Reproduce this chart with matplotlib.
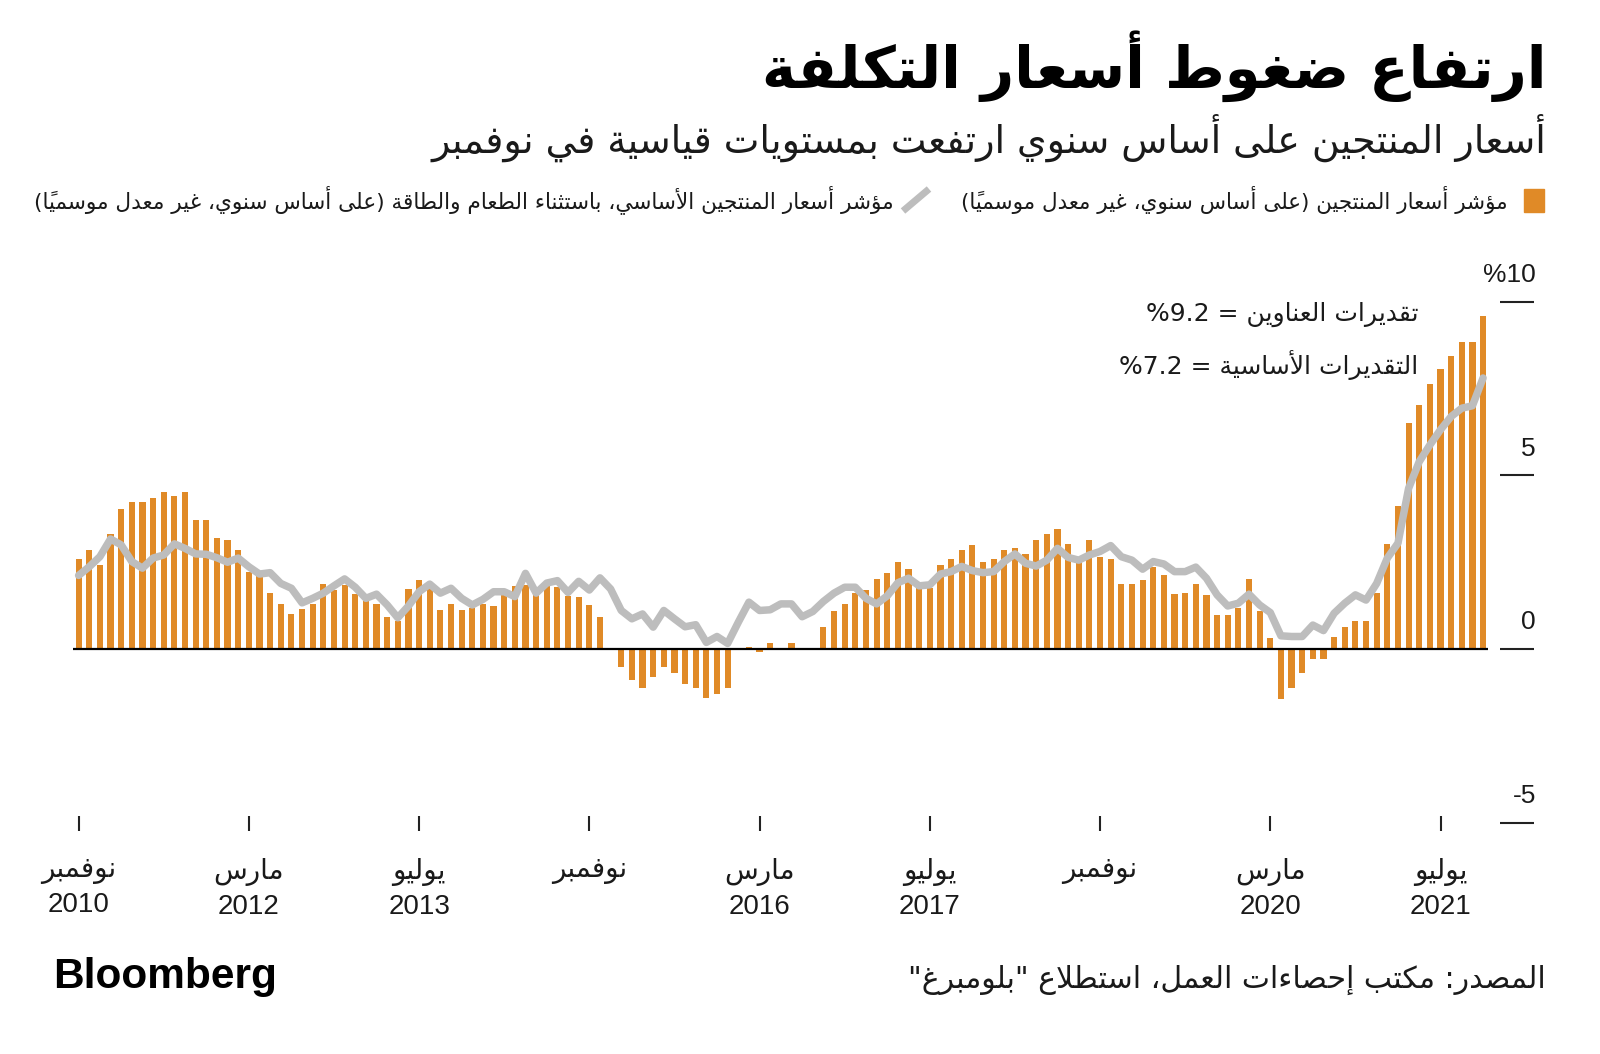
import matplotlib
matplotlib.use("Agg")
import matplotlib.pyplot as plt
from matplotlib.transforms import blended_transform_factory
from matplotlib.patches import Rectangle
from matplotlib.lines import Line2D

# ---------------- data ----------------
# Monthly, Nov 2010 .. Nov 2021, year-over-year %
ppi_yoy = [2.60, 2.86, 2.42, 3.31, 4.04, 4.23, 4.23, 4.35, 4.53, 4.40, 4.53, 3.73,
           3.73, 3.19, 3.13, 2.84, 2.23, 2.09, 1.61, 1.29, 1.00, 1.15, 1.30, 1.87,
           1.70, 1.85, 1.59, 1.37, 1.29, 0.93, 0.80, 1.72, 1.99, 1.75, 1.12, 1.30,
           1.12, 1.17, 1.30, 1.24, 1.56, 1.82, 1.85, 1.56, 1.82, 1.78, 1.54, 1.49,
           1.28, 0.91, 0.00, -0.53, -0.89, -1.13, -0.82, -0.53, -0.70, -1.02, -1.13, -1.42,
           -1.31, -1.13, 0.03, 0.07, -0.10, 0.17, 0.02, 0.18, 0.02, 0.00, 0.64, 1.10,
           1.30, 1.61, 1.70, 2.01, 2.18, 2.50, 2.30, 1.80, 1.75, 2.42, 2.60, 2.84,
           3.00, 2.50, 2.60, 2.84, 2.90, 2.74, 3.14, 3.31, 3.45, 3.03, 2.52, 3.14,
           2.66, 2.60, 1.88, 1.88, 2.00, 2.36, 2.12, 1.58, 1.61, 1.88, 1.55, 0.99,
           0.99, 1.19, 2.01, 1.10, 0.31, -1.45, -1.11, -0.68, -0.29, -0.29, 0.34, 0.63,
           0.81, 0.81, 1.61, 3.03, 4.11, 6.51, 7.04, 7.64, 8.07, 8.43, 8.84, 8.84,
           9.61]
core_yoy = [2.12, 2.37, 2.66, 3.17, 3.00, 2.52, 2.33, 2.62, 2.71, 3.03, 2.90, 2.74,
            2.73, 2.63, 2.50, 2.62, 2.37, 2.16, 2.20, 1.89, 1.75, 1.33, 1.46, 1.61,
            1.82, 2.02, 1.78, 1.46, 1.58, 1.27, 0.90, 1.24, 1.65, 1.87, 1.61, 1.75,
            1.46, 1.27, 1.43, 1.65, 1.65, 1.51, 2.18, 1.61, 1.90, 1.97, 1.63, 1.95,
            1.70, 2.05, 1.73, 1.11, 0.87, 1.01, 0.63, 1.11, 0.87, 0.64, 0.70, 0.19,
            0.36, 0.16, 0.77, 1.35, 1.11, 1.13, 1.30, 1.30, 0.93, 1.08, 1.37, 1.61,
            1.78, 1.78, 1.46, 1.30, 1.53, 1.91, 2.04, 1.82, 1.85, 2.16, 2.23, 2.38,
            2.26, 2.20, 2.23, 2.52, 2.74, 2.47, 2.39, 2.56, 2.90, 2.64, 2.56, 2.71,
            2.81, 2.98, 2.66, 2.56, 2.30, 2.52, 2.45, 2.23, 2.23, 2.36, 2.04, 1.56,
            1.24, 1.32, 1.58, 1.27, 1.05, 0.38, 0.36, 0.36, 0.69, 0.53, 1.03, 1.32,
            1.56, 1.41, 1.89, 2.62, 3.05, 4.63, 5.40, 5.88, 6.32, 6.70, 6.94, 7.01,
            7.81]
tick_index = [0, 16, 32, 48, 64, 80, 96, 112, 128]
tick_months = ["نوفمبر", "مارس", "يوليو", "نوفمبر", "مارس", "يوليو", "نوفمبر", "مارس", "يوليو"]
tick_years = ["2010", "2012", "2013", "", "2016", "2017", "", "2020", "2021"]
y_ticks = [10, 5, 0, -5]
y_tick_labels = ["%10", "5", "0", "-5"]

title = "ارتفاع ضغوط أسعار التكلفة"
subtitle = "أسعار المنتجين على أساس سنوي ارتفعت بمستويات قياسية في نوفمبر"
legend_bar = "مؤشر أسعار المنتجين (على أساس سنوي، غير معدل موسمياً)"
legend_line = "مؤشر أسعار المنتجين الأساسي، باستثناء الطعام والطاقة (على أساس سنوي، غير معدل موسمياً)"
note_headline = "تقديرات العناوين = %9.2"
note_core = "التقديرات الأساسية = %7.2"
source = 'المصدر: مكتب إحصاءات العمل، استطلاع "بلومبرغ"'

ORANGE = "#E08A27"
GREY = "#BDBDBD"

# ---------------- minimal Arabic shaping + RTL ordering ----------------
_TABLE = [("ء", 0xFE80, "U"), ("آ", 0xFE81, "R"), ("أ", 0xFE83, "R"), ("ؤ", 0xFE85, "R"),
          ("إ", 0xFE87, "R"), ("ئ", 0xFE89, "D"), ("ا", 0xFE8D, "R"), ("ب", 0xFE8F, "D"),
          ("ة", 0xFE93, "R"), ("ت", 0xFE95, "D"), ("ث", 0xFE99, "D"), ("ج", 0xFE9D, "D"),
          ("ح", 0xFEA1, "D"), ("خ", 0xFEA5, "D"), ("د", 0xFEA9, "R"), ("ذ", 0xFEAB, "R"),
          ("ر", 0xFEAD, "R"), ("ز", 0xFEAF, "R"), ("س", 0xFEB1, "D"), ("ش", 0xFEB5, "D"),
          ("ص", 0xFEB9, "D"), ("ض", 0xFEBD, "D"), ("ط", 0xFEC1, "D"), ("ظ", 0xFEC5, "D"),
          ("ع", 0xFEC9, "D"), ("غ", 0xFECD, "D"), ("ف", 0xFED1, "D"), ("ق", 0xFED5, "D"),
          ("ك", 0xFED9, "D"), ("ل", 0xFEDD, "D"), ("م", 0xFEE1, "D"), ("ن", 0xFEE5, "D"),
          ("ه", 0xFEE9, "D"), ("و", 0xFEED, "R"), ("ى", 0xFEEF, "R"), ("ي", 0xFEF1, "D")]
_AR = {c: (b, t) for c, b, t in _TABLE}
_LAM_ALEF = {"آ": 0xFEF5, "أ": 0xFEF7, "إ": 0xFEF9, "ا": 0xFEFB}
_MIRROR = {"(": ")", ")": "("}


def ar(text):
    clusters = []
    for ch in text:
        if "\u064B" <= ch <= "\u0652" and clusters:
            clusters[-1][1] += ch
        else:
            clusters.append([ch, ""])
    merged = []
    i = 0
    while i < len(clusters):
        c, m = clusters[i]
        if c == "ل" and i + 1 < len(clusters) and clusters[i + 1][0] in _LAM_ALEF:
            merged.append(["LA" + clusters[i + 1][0], m + clusters[i + 1][1]])
            i += 2
        else:
            merged.append([c, m])
            i += 1

    def jt(c):
        if len(c) == 3 and c.startswith("LA"):
            return "R"
        return _AR.get(c, (None, None))[1]

    glyphs = []
    for k, (c, m) in enumerate(merged):
        t = jt(c)
        if t is None:
            glyphs.append((c, m, False))
            continue
        if t == "U":
            glyphs.append((chr(_AR[c][0]), m, True))
            continue
        prev = merged[k - 1][0] if k > 0 else None
        nxt = merged[k + 1][0] if k + 1 < len(merged) else None
        jp = prev is not None and jt(prev) == "D"
        jn = t == "D" and nxt is not None and jt(nxt) in ("D", "R")
        if len(c) == 3 and c.startswith("LA"):
            g = chr(_LAM_ALEF[c[2]] + (1 if jp else 0))
        else:
            base = _AR[c][0]
            if t == "R":
                g = chr(base + (1 if jp else 0))
            else:
                g = chr(base + (3 if (jp and jn) else 1 if jp else 2 if jn else 0))
        glyphs.append((g, m, True))

    tokens = []
    for g, m, arabic in glyphs:
        ltr = (not arabic) and g.isascii() and (g.isalnum() or g in ".%")
        if ltr and tokens and tokens[-1][1]:
            tokens[-1][0] += g + m
        else:
            tokens.append([g + m, ltr])
    return "".join(s if l else _MIRROR.get(s, s) for s, l in reversed(tokens))


# ---------------- figure ----------------
plt.rcParams["font.family"] = ["DejaVu Sans"]
W, H = 1600, 1054
fig = plt.figure(figsize=(W / 100, H / 100), dpi=100)

# axes geometry in pixels
x0_px, dx_px = 78.6, 10.64          # centre of first bar, month spacing
zero_px, unit_px = 649.0, 34.7      # y of 0 (from top), px per 1%
xlo, xhi = -0.5, (1500 - x0_px) / dx_px
ylo, yhi = -5.5, 10.8
left = x0_px + xlo * dx_px
bottom = (H - zero_px) + ylo * unit_px
ax = fig.add_axes([left / W, bottom / H, (xhi - xlo) * dx_px / W, (yhi - ylo) * unit_px / H])
ax.set_xlim(xlo, xhi)
ax.set_ylim(ylo, yhi)

x = list(range(len(ppi_yoy)))
ax.bar(x, ppi_yoy, width=0.58, color=ORANGE, zorder=2)
ax.plot(x, core_yoy, color=GREY, lw=5.4, solid_joinstyle="round", solid_capstyle="round", zorder=3)
ax.hlines(0, x[0] - 0.5, x[-1] + 0.5, color="black", lw=1.6, zorder=4)

for s in ax.spines.values():
    s.set_visible(False)
ax.spines["bottom"].set_position(("data", (237.7 - (H - zero_px)) / unit_px))

# x ticks
ax.set_xticks(tick_index)
ax.set_xticklabels([ar(m) + ("\n" + yv if yv else "") for m, yv in zip(tick_months, tick_years)],
                   linespacing=1.42, va="top")
ax.tick_params(axis="x", direction="out", length=11, width=1.5, color="#222222", pad=19,
               labelsize=20, labelcolor="#1a1a1a")
for lab in ax.get_xticklabels():
    lab.set_family(["Liberation Sans", "DejaVu Sans"])

# y ticks on the right, labels above tick marks
ax.yaxis.tick_right()
ax.set_yticks(y_ticks)
ax.tick_params(axis="y", direction="out", length=24.5, width=1.5, color="#222222", labelright=False)
tr = blended_transform_factory(ax.transAxes, ax.transData)
xr = (1536 - left) / ((xhi - xlo) * dx_px)
for v, lab in zip(y_ticks, y_tick_labels):
    ax.text(xr, v + 0.77, lab, transform=tr, ha="right", va="center", fontsize=19,
            family=["Liberation Sans", "DejaVu Sans"], color="#1a1a1a")


def ftext(xp, yp, s, **kw):
    return fig.text(xp / W, 1 - yp / H, s, **kw)


# title, subtitle
ftext(1546, 66, ar(title), ha="right", va="center", fontsize=41.5, fontweight="bold", color="black")
ftext(1546, 138, ar(subtitle), ha="right", va="center", fontsize=27.3, color="#1a1a1a")

# legend
fig.patches.append(Rectangle((1524 / W, 1 - 212 / H), 20 / W, 23 / H, transform=fig.transFigure,
                             color=ORANGE, figure=fig))
ftext(1508, 200, ar(legend_bar), ha="right", va="center", fontsize=15.5, color="#1a1a1a")
fig.lines.append(Line2D([903 / W, 929 / W], [1 - 211 / H, 1 - 189 / H], transform=fig.transFigure,
                        color=GREY, lw=5, solid_capstyle="butt", figure=fig))
ftext(894, 200, ar(legend_line), ha="right", va="center", fontsize=15.6, color="#1a1a1a")

# annotations
ftext(1418, 314, ar(note_headline), ha="right", va="center", fontsize=18, color="#1a1a1a")
ftext(1418, 365, ar(note_core), ha="right", va="center", fontsize=18, color="#1a1a1a")

# footer
ftext(53, 977, "Bloomberg", ha="left", va="center", fontsize=30.5, fontweight="bold",
      family=["Liberation Sans", "DejaVu Sans"], color="black")
ftext(1546, 980, ar(source), ha="right", va="center", fontsize=21.5, color="#1a1a1a")

fig.savefig("out.png", dpi=100)
